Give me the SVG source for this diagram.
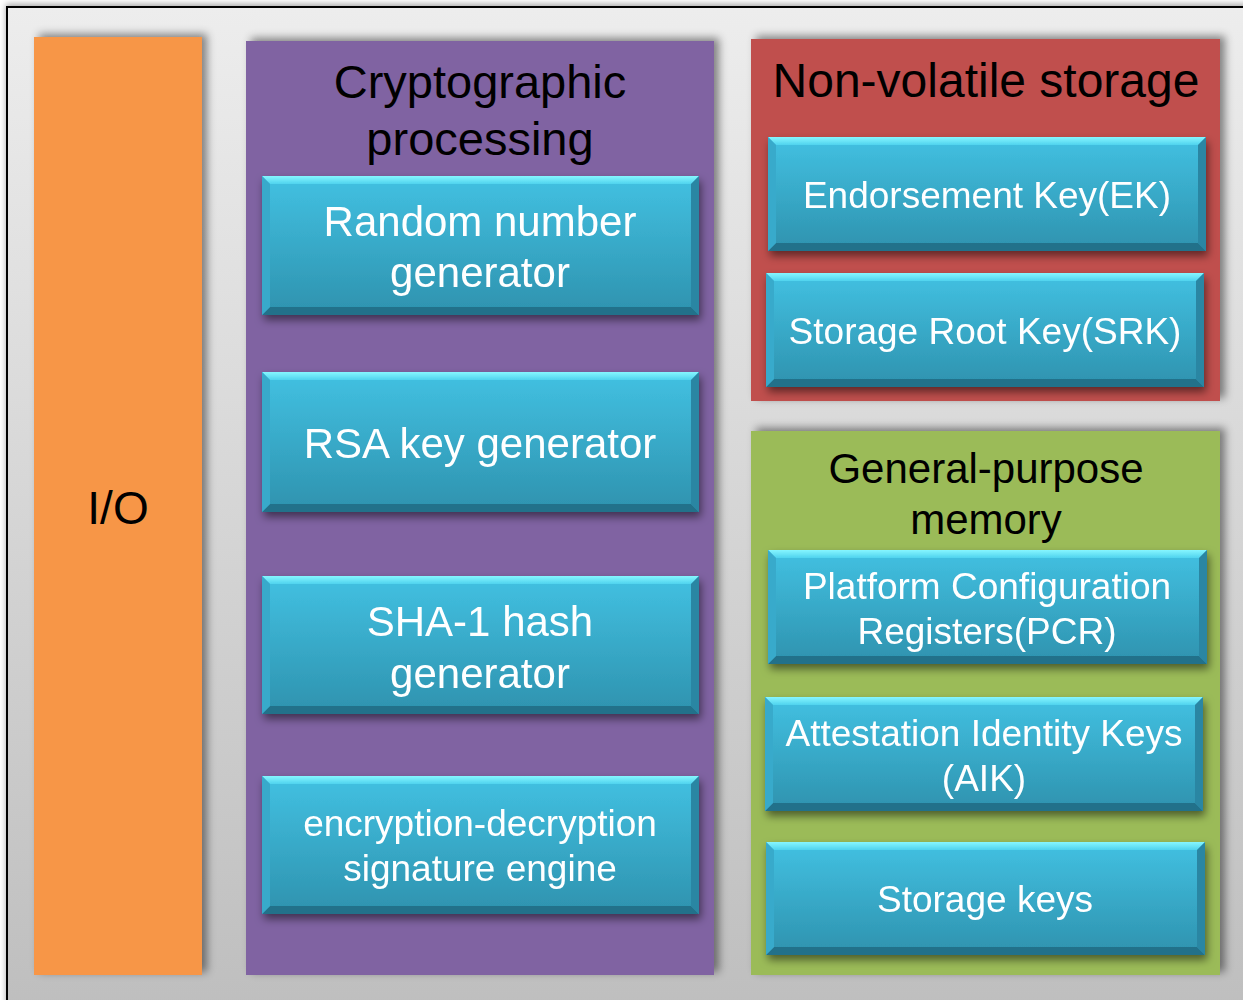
<svg xmlns="http://www.w3.org/2000/svg" width="1243" height="1000" viewBox="0 0 1243 1000">
<defs>
<linearGradient id="bg" x1="0" y1="0" x2="0" y2="1">
<stop offset="0" stop-color="#ededed"/>
<stop offset="1" stop-color="#bebebe"/>
</linearGradient>
<linearGradient id="blue" x1="0" y1="0" x2="0" y2="1">
<stop offset="0" stop-color="#42c1e2"/>
<stop offset="1" stop-color="#2e92ae"/>
</linearGradient>
<linearGradient id="topb" x1="0" y1="0" x2="0" y2="1">
<stop offset="0" stop-color="#86f6ff"/>
<stop offset="1" stop-color="#4fd3ee"/>
</linearGradient>
<filter id="psh" x="-10%" y="-10%" width="130%" height="120%">
<feDropShadow dx="5" dy="-3" stdDeviation="4" flood-color="#000" flood-opacity="0.45"/>
</filter>
<filter id="bsh" x="-10%" y="-10%" width="130%" height="140%">
<feDropShadow dx="2" dy="5" stdDeviation="4" flood-color="#000" flood-opacity="0.5"/>
</filter>
<filter id="fsh" x="-5%" y="-5%" width="110%" height="110%">
<feDropShadow dx="0" dy="-2" stdDeviation="3" flood-color="#000" flood-opacity="0.35"/>
</filter>
</defs>
<style>
.title{font-family:"Liberation Sans",Arial,sans-serif;fill:#000;text-anchor:middle}
.lbl{font-family:"Liberation Sans",Arial,sans-serif;fill:#fff;text-anchor:middle}
.main{fill:url(#blue)}
.tb{fill:url(#topb)}
.bb{fill:#22718a}
.lb{fill:#38aacb}
.rb{fill:#2a86a3}
</style>
<rect x="7" y="7" width="1250" height="1010" fill="url(#bg)" stroke="#000" stroke-width="2" filter="url(#fsh)"/>

<g id="io">
<rect x="34" y="37" width="168" height="938" fill="#f79646" filter="url(#psh)"/>
<text class="title" x="118" y="524" font-size="46">I/O</text>
</g>

<g id="crypto">
<rect x="246" y="41" width="468" height="934" fill="#8064a2" filter="url(#psh)"/>
<text class="title" x="480" y="98" font-size="47">Cryptographic</text>
<text class="title" x="480" y="155" font-size="47">processing</text>
</g>

<g id="nvs">
<rect x="751" y="39" width="469" height="362" fill="#c0504d" filter="url(#psh)"/>
<text class="title" x="986" y="97" font-size="48">Non-volatile storage</text>
</g>

<g id="gpm">
<rect x="751" y="431" width="469" height="544" fill="#9bbb59" filter="url(#psh)"/>
<text class="title" x="986" y="483" font-size="42">General-purpose</text>
<text class="title" x="986" y="534" font-size="42">memory</text>
</g>

<g id="rng" filter="url(#bsh)">
<rect class="main" x="262" y="176" width="437" height="139"/>
<polygon class="tb" points="262,176 699,176 691,184 270,184"/>
<polygon class="bb" points="262,315 699,315 691,307 270,307"/>
<polygon class="lb" points="262,176 270,184 270,307 262,315"/>
<polygon class="rb" points="699,176 691,184 691,307 699,315"/>
<text class="lbl" x="480" y="236" font-size="42">Random number</text>
<text class="lbl" x="480" y="287" font-size="42">generator</text>
</g>

<g id="rsa" filter="url(#bsh)">
<rect class="main" x="262" y="372" width="437" height="140"/>
<polygon class="tb" points="262,372 699,372 691,380 270,380"/>
<polygon class="bb" points="262,512 699,512 691,504 270,504"/>
<polygon class="lb" points="262,372 270,380 270,504 262,512"/>
<polygon class="rb" points="699,372 691,380 691,504 699,512"/>
<text class="lbl" x="480" y="458" font-size="42">RSA key generator</text>
</g>

<g id="sha" filter="url(#bsh)">
<rect class="main" x="262" y="576" width="437" height="138"/>
<polygon class="tb" points="262,576 699,576 691,584 270,584"/>
<polygon class="bb" points="262,714 699,714 691,706 270,706"/>
<polygon class="lb" points="262,576 270,584 270,706 262,714"/>
<polygon class="rb" points="699,576 691,584 691,706 699,714"/>
<text class="lbl" x="480" y="636" font-size="42">SHA-1 hash</text>
<text class="lbl" x="480" y="688" font-size="42">generator</text>
</g>

<g id="enc" filter="url(#bsh)">
<rect class="main" x="262" y="776" width="437" height="138"/>
<polygon class="tb" points="262,776 699,776 691,784 270,784"/>
<polygon class="bb" points="262,914 699,914 691,906 270,906"/>
<polygon class="lb" points="262,776 270,784 270,906 262,914"/>
<polygon class="rb" points="699,776 691,784 691,906 699,914"/>
<text class="lbl" x="480" y="836" font-size="37">encryption-decryption</text>
<text class="lbl" x="480" y="881" font-size="37">signature engine</text>
</g>

<g id="ek" filter="url(#bsh)">
<rect class="main" x="768" y="137" width="438" height="114"/>
<polygon class="tb" points="768,137 1206,137 1198,145 776,145"/>
<polygon class="bb" points="768,251 1206,251 1198,243 776,243"/>
<polygon class="lb" points="768,137 776,145 776,243 768,251"/>
<polygon class="rb" points="1206,137 1198,145 1198,243 1206,251"/>
<text class="lbl" x="987" y="208" font-size="37">Endorsement Key(EK)</text>
</g>

<g id="srk" filter="url(#bsh)">
<rect class="main" x="766" y="273" width="438" height="114"/>
<polygon class="tb" points="766,273 1204,273 1196,281 774,281"/>
<polygon class="bb" points="766,387 1204,387 1196,379 774,379"/>
<polygon class="lb" points="766,273 774,281 774,379 766,387"/>
<polygon class="rb" points="1204,273 1196,281 1196,379 1204,387"/>
<text class="lbl" x="985" y="344" font-size="37">Storage Root Key(SRK)</text>
</g>

<g id="pcr" filter="url(#bsh)">
<rect class="main" x="768" y="550" width="439" height="114"/>
<polygon class="tb" points="768,550 1207,550 1199,558 776,558"/>
<polygon class="bb" points="768,664 1207,664 1199,656 776,656"/>
<polygon class="lb" points="768,550 776,558 776,656 768,664"/>
<polygon class="rb" points="1207,550 1199,558 1199,656 1207,664"/>
<text class="lbl" x="987" y="599" font-size="37">Platform Configuration</text>
<text class="lbl" x="987" y="644" font-size="37">Registers(PCR)</text>
</g>

<g id="aik" filter="url(#bsh)">
<rect class="main" x="765" y="697" width="438" height="114"/>
<polygon class="tb" points="765,697 1203,697 1195,705 773,705"/>
<polygon class="bb" points="765,811 1203,811 1195,803 773,803"/>
<polygon class="lb" points="765,697 773,705 773,803 765,811"/>
<polygon class="rb" points="1203,697 1195,705 1195,803 1203,811"/>
<text class="lbl" x="984" y="746" font-size="37">Attestation Identity Keys</text>
<text class="lbl" x="984" y="791" font-size="37">(AIK)</text>
</g>

<g id="sk" filter="url(#bsh)">
<rect class="main" x="766" y="842" width="439" height="113"/>
<polygon class="tb" points="766,842 1205,842 1197,850 774,850"/>
<polygon class="bb" points="766,955 1205,955 1197,947 774,947"/>
<polygon class="lb" points="766,842 774,850 774,947 766,955"/>
<polygon class="rb" points="1205,842 1197,850 1197,947 1205,955"/>
<text class="lbl" x="985" y="912" font-size="37">Storage keys</text>
</g>

<g id="connectors"/>
</svg>
